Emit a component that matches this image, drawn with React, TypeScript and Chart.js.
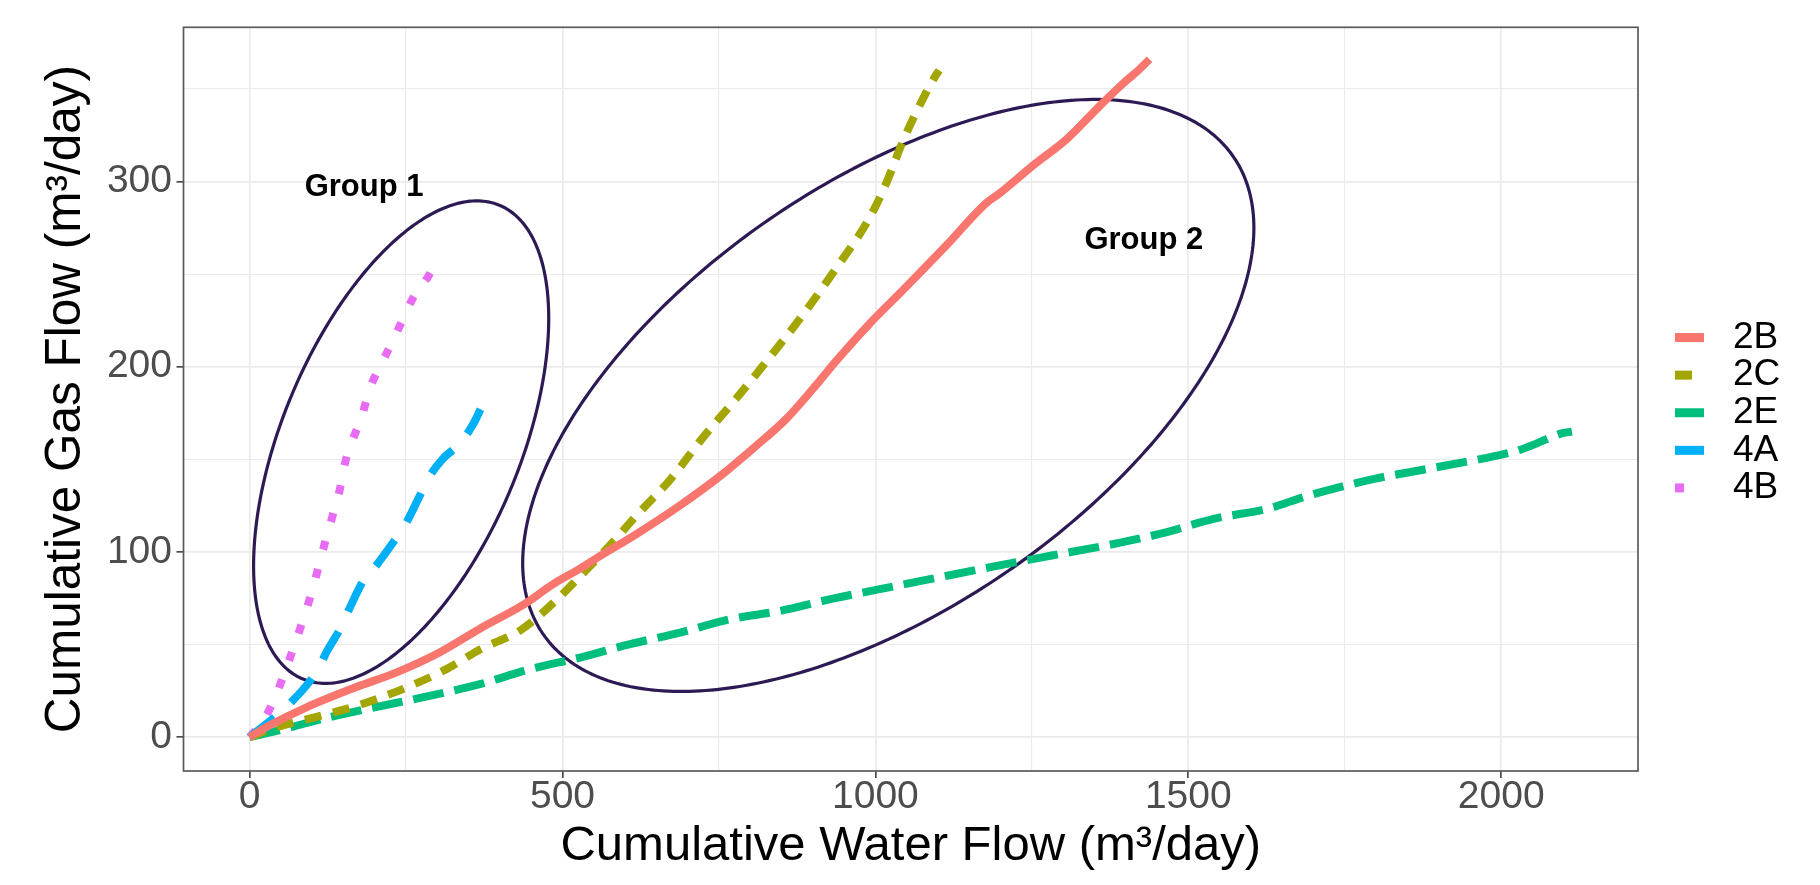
import React, { useEffect, useRef } from 'react';
import { Chart, registerables } from 'chart.js';

Chart.register(...registerables);

// ---------- data ----------
const SERIES = ['2B', '2C', '2E', '4A', '4B'];

const X_2B = [0, 30, 90, 170, 235, 305, 370, 435, 487, 528, 561, 615, 683, 752, 805, 858, 910, 937, 990, 1043, 1112, 1176, 1200, 1253, 1306, 1359, 1396, 1420, 1438];
const Y_2B = [0, 6, 16, 27, 35, 46, 59, 71, 83, 91, 98, 109, 124, 141, 156, 172, 192, 203, 223, 241, 265, 288, 294, 309, 323, 341, 353, 360, 366];

const X_2C = [0, 37, 118, 172, 252, 316, 369, 434, 487, 540, 577, 619, 672, 725, 778, 831, 884, 937, 990, 1016, 1043, 1069, 1096, 1102];
const Y_2C = [0, 4.7, 12, 17, 27, 37, 47.5, 58, 73, 91, 104, 120, 139, 162, 183, 205, 228, 253, 280, 298, 321, 340, 357, 360];

const X_2E = [0, 48, 118, 198, 278, 368, 448, 528, 608, 688, 768, 848, 928, 1007, 1087, 1196, 1284, 1370, 1456, 1542, 1627, 1685, 1742, 1799, 1885, 1970, 2028, 2056, 2095, 2113];
const Y_2E = [0, 3.8, 10, 16, 21.6, 28.6, 36.7, 43, 50.2, 56.5, 63.7, 68.2, 74.5, 79.9, 85.3, 92.6, 98.2, 103.6, 109.9, 118, 123.4, 129.7, 135, 139.6, 145, 150.4, 154.9, 158.5, 163.9, 165];

const X_4A = [0, 64, 110, 123, 147, 161, 182, 203, 227, 249, 270, 286, 308, 337, 359, 369];
const Y_4A = [0, 18, 37, 46, 60, 70.5, 84.6, 93, 104, 115, 129, 140, 150, 159, 170, 177];

const X_4B = [0, 24, 43, 72, 86, 99, 111, 122, 133, 145, 151, 163, 179, 192, 208, 226, 244, 261, 284, 301];
const Y_4B = [0, 10, 23.5, 50, 64, 78, 93, 107, 120, 135, 146, 159, 173, 188, 200, 212, 225, 237, 248, 257.5];

const SERIES_X = [X_2B, X_2C, X_2E, X_4A, X_4B];
const SERIES_Y = [Y_2B, Y_2C, Y_2E, Y_4A, Y_4B];

const COLORS = ['#F8766D', '#A3A500', '#00BF7D', '#00B0F6', '#E76BF3'];
const DASHES: number[][] = [[], [17, 12], [31, 11], [32, 22], [9, 20]];

// axis grid positions and tick labels
const X_GRID = [0, 250, 500, 750, 1000, 1250, 1500, 1750, 2000];
const X_TICK_LABELS = ['0', '', '500', '', '1000', '', '1500', '', '2000'];
const Y_GRID = [0, 50, 100, 150, 200, 250, 300, 350];
const Y_TICK_LABELS = ['0', '', '100', '', '200', '', '300', ''];

// group annotations (data units): ellipse centre and two conjugate semi-diameters
const ELLIPSE_CENTER = [[242.2, 159.3], [1020.6, 184.5]];
const ELLIPSE_A = [[235.8, 66.8], [584.2, 90.5]];
const ELLIPSE_B = [[0, 111.8], [0, 131.7]];
const GROUP_LABELS = ['Group 1', 'Group 2'];
const GROUP_LABEL_POS = [[183, 296.8], [1429, 268.4]];

const X_MIN = -105.6;
const X_MAX = 2218.6;
const Y_MIN = -18.25;
const Y_MAX = 383.25;

const X_TITLE = 'Cumulative Water Flow (m\u00B3/day)';
const Y_TITLE = 'Cumulative Gas Flow (m\u00B3/day)';

const FONT = "'Liberation Sans', Arial, Helvetica, sans-serif";

const overlayPlugin = {
  id: 'overlay',
  beforeDatasetsDraw(chart: any) {
    const { ctx, chartArea, scales } = chart;
    const xs = scales.x;
    const ys = scales.y;
    ctx.save();
    ctx.beginPath();
    ctx.rect(chartArea.left, chartArea.top, chartArea.right - chartArea.left, chartArea.bottom - chartArea.top);
    ctx.clip();
    ctx.strokeStyle = '#2D1A54';
    ctx.lineWidth = 3.2;
    ctx.setLineDash([]);
    ELLIPSE_CENTER.forEach((c, k) => {
      ctx.beginPath();
      for (let i = 0; i <= 360; i++) {
        const t = (i * Math.PI) / 180;
        const dx = c[0] + ELLIPSE_A[k][0] * Math.cos(t) + ELLIPSE_B[k][0] * Math.sin(t);
        const dy = c[1] + ELLIPSE_A[k][1] * Math.cos(t) + ELLIPSE_B[k][1] * Math.sin(t);
        const px = xs.getPixelForValue(dx);
        const py = ys.getPixelForValue(dy);
        if (i === 0) ctx.moveTo(px, py);
        else ctx.lineTo(px, py);
      }
      ctx.closePath();
      ctx.stroke();
    });
    ctx.restore();
  },
  afterDatasetsDraw(chart: any) {
    const { ctx, scales } = chart;
    ctx.save();
    ctx.fillStyle = '#000000';
    ctx.font = `bold 31px ${FONT}`;
    ctx.textAlign = 'center';
    ctx.textBaseline = 'middle';
    GROUP_LABELS.forEach((lab, k) => {
      ctx.fillText(lab, scales.x.getPixelForValue(GROUP_LABEL_POS[k][0]), scales.y.getPixelForValue(GROUP_LABEL_POS[k][1]));
    });
    ctx.restore();
  },
  afterDraw(chart: any) {
    const { ctx, chartArea } = chart;
    ctx.save();
    // panel border
    ctx.strokeStyle = '#5A5A5A';
    ctx.lineWidth = 1.7;
    ctx.setLineDash([]);
    ctx.strokeRect(chartArea.left, chartArea.top, chartArea.right - chartArea.left, chartArea.bottom - chartArea.top);
    // legend
    const rx = chartArea.right;
    const cy = (chartArea.top + chartArea.bottom) / 2;
    chart.data.datasets.forEach((ds: any, i: number) => {
      const yy = cy - 61.6 + i * 37.6;
      ctx.save();
      ctx.strokeStyle = ds.borderColor;
      ctx.lineWidth = 9;
      ctx.lineCap = 'butt';
      ctx.setLineDash(ds.borderDash || []);
      ctx.beginPath();
      ctx.moveTo(rx + 37, yy);
      ctx.lineTo(rx + 66, yy);
      ctx.stroke();
      ctx.restore();
      ctx.fillStyle = '#000000';
      ctx.font = `37px ${FONT}`;
      ctx.textAlign = 'left';
      ctx.textBaseline = 'middle';
      ctx.fillText(ds.label, rx + 95, yy);
    });
    ctx.restore();
  },
};

export default function App() {
  const ref = useRef<HTMLCanvasElement>(null);

  useEffect(() => {
    const canvas = ref.current;
    if (!canvas) return;

    const datasets = SERIES.map((name, i) => ({
      label: name,
      data: SERIES_X[i].map((x, j) => ({ x, y: SERIES_Y[i][j] })),
      borderColor: COLORS[i],
      backgroundColor: COLORS[i],
      borderWidth: 8,
      borderDash: DASHES[i],
      borderCapStyle: 'butt',
      borderJoinStyle: 'round',
      pointRadius: 0,
      pointHoverRadius: 0,
      fill: false,
      cubicInterpolationMode: 'monotone',
    }));

    const labelFor = (grid: number[], labels: string[], v: number) => {
      const k = grid.findIndex((g) => Math.abs(g - v) < 1e-6);
      return k >= 0 ? labels[k] : '';
    };
    const isMajor = (grid: number[], labels: string[], v: number) => labelFor(grid, labels, v) !== '';

    const chart = new Chart(canvas, {
      type: 'line',
      data: { datasets } as any,
      options: {
        responsive: true,
        maintainAspectRatio: false,
        animation: false,
        devicePixelRatio: 1,
        events: [],
        layout: { padding: { left: 0, top: 27.3, right: 182, bottom: 0 } },
        plugins: {
          legend: { display: false },
          tooltip: { enabled: false },
        },
        scales: {
          x: {
            type: 'linear',
            position: 'bottom',
            min: X_MIN,
            max: X_MAX,
            bounds: 'data',
            afterBuildTicks: (s: any) => {
              s.ticks = X_GRID.map((v) => ({ value: v }));
            },
            afterFit: (s: any) => {
              s.height = 114;
            },
            border: { display: false },
            grid: {
              color: '#EBEBEB',
              lineWidth: (c: any) => (c.tick && isMajor(X_GRID, X_TICK_LABELS, c.tick.value) ? 1.7 : 1.1),
              drawTicks: true,
              tickLength: 7,
              tickWidth: 1.7,
              tickColor: (c: any) => (c.tick && isMajor(X_GRID, X_TICK_LABELS, c.tick.value) ? '#4D4D4D' : 'rgba(0,0,0,0)'),
            },
            ticks: {
              autoSkip: false,
              maxRotation: 0,
              minRotation: 0,
              padding: 0,
              color: '#4D4D4D',
              font: { family: FONT, size: 39, lineHeight: 1 },
              callback: (v: any) => labelFor(X_GRID, X_TICK_LABELS, Number(v)),
            },
            title: {
              display: true,
              text: X_TITLE,
              color: '#000000',
              font: { family: FONT, size: 49, lineHeight: 1.2 },
              padding: { top: 0, bottom: 9 },
            },
          },
          y: {
            type: 'linear',
            position: 'left',
            min: Y_MIN,
            max: Y_MAX,
            bounds: 'data',
            afterBuildTicks: (s: any) => {
              s.ticks = Y_GRID.map((v) => ({ value: v }));
            },
            afterFit: (s: any) => {
              s.width = 183.5;
            },
            border: { display: false },
            grid: {
              color: '#EBEBEB',
              lineWidth: (c: any) => (c.tick && isMajor(Y_GRID, Y_TICK_LABELS, c.tick.value) ? 1.7 : 1.1),
              drawTicks: true,
              tickLength: 7,
              tickWidth: 1.7,
              tickColor: (c: any) => (c.tick && isMajor(Y_GRID, Y_TICK_LABELS, c.tick.value) ? '#4D4D4D' : 'rgba(0,0,0,0)'),
            },
            ticks: {
              autoSkip: false,
              padding: 4.5,
              color: '#4D4D4D',
              font: { family: FONT, size: 39, lineHeight: 1 },
              callback: (v: any) => labelFor(Y_GRID, Y_TICK_LABELS, Number(v)),
            },
            title: {
              display: true,
              text: Y_TITLE,
              color: '#000000',
              font: { family: FONT, size: 49.5, lineHeight: 1.2 },
              padding: { top: 37, bottom: 0 },
            },
          },
        },
      } as any,
      plugins: [overlayPlugin],
    });

    return () => chart.destroy();
  }, []);

  return (
    <div style={{ position: 'fixed', left: 0, top: 0, width: 1820, height: 885, background: '#ffffff' }}>
      <canvas ref={ref} />
    </div>
  );
}
